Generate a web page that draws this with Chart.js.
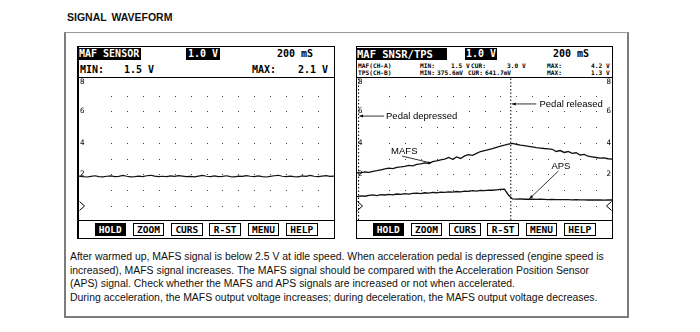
<!DOCTYPE html>
<html>
<head>
<meta charset="utf-8">
<script src="https://cdn.jsdelivr.net/npm/chart.js@4/dist/chart.umd.min.js"></script>
<style>
  html, body { margin: 0; padding: 0; background: #fff; }
  body { width: 700px; height: 332px; position: relative; overflow: hidden;
         font-family: "Liberation Sans", Arial, sans-serif; color: #111; }
  .abs { position: absolute; white-space: pre; }
  #title { left: 67px; top: 11px; font-weight: bold; font-size: 10.5px; word-spacing: 2px; }
  #frame { position: absolute; left: 64px; top: 32px; width: 565px; height: 286px; box-sizing: border-box;
           border: 2px solid #7c7c7c; border-top: 1px solid #9a9a9a; }
  .panel { position: absolute; top: 46px; height: 193px; box-sizing: border-box; border: 1px solid #000; background: #fff; }
  #left { left: 77px; width: 258px; border-left: 2px solid #000; }
  #right { left: 356px; width: 257px; }
  .mono { font-family: "DejaVu Sans Mono", monospace; font-weight: bold; color: #000; }
  .row1 { font-size: 10px; line-height: 12px; top: 1px; }
  .inv { background: #000; color: #fff; height: 12px; }
  .row2 { font-size: 10px; line-height: 12px; top: 17px; }
  .small { font-size: 6.2px; line-height: 7px; font-weight: bold; }
  .sep { position: absolute; left: 0; right: 0; top: 30px; height: 1px; background: #000; }
  canvas.scope { position: absolute; left: 0; top: 31px; }
  .btnrow { position: absolute; left: 0; right: 0; top: 173px; height: 18px; border-top: 1px solid #000; }
  .btn { position: absolute; top: 2px; height: 13px; box-sizing: border-box; border: 1px solid #000;
         font-family: "DejaVu Sans Mono", monospace; font-weight: bold; font-size: 9.5px; line-height: 11px;
         text-align: center; color: #000; background: #fff; }
  .btn.on { background: #000; color: #fff; }
  #notes { left: 70px; top: 250px; font-size: 10.45px; line-height: 13.7px; color: #111; }
</style>
</head>
<body>
<div id="title" class="abs">SIGNAL WAVEFORM</div>
<div id="frame"></div>

<div id="left" class="panel">
  <div class="abs mono row1 inv" style="left:0;width:62px;">MAF SENSOR</div>
  <div class="abs mono row1 inv" style="left:107px;width:34px;text-align:center;">1.0 V</div>
  <div class="abs mono row1" style="left:198px;">200 mS</div>
  <div class="abs mono row2" style="left:1px;">MIN:</div>
  <div class="abs mono row2" style="left:45px;">1.5 V</div>
  <div class="abs mono row2" style="left:173px;">MAX:</div>
  <div class="abs mono row2" style="left:219px;">2.1 V</div>
  <div class="sep"></div>
  <canvas id="mafChart" class="scope" width="255" height="142"></canvas>
  <div class="btnrow" id="leftButtons"></div>
</div>

<div id="right" class="panel">
  <div class="abs mono row1 inv" style="left:0;width:90px;font-size:10.5px;">MAF SNSR/TPS</div>
  <div class="abs mono row1 inv" style="left:108px;width:32px;text-align:center;">1.0 V</div>
  <div class="abs mono row1" style="left:196px;">200 mS</div>

  <div class="abs mono small" style="top:15px;left:1px;">MAF(CH-A)</div>
  <div class="abs mono small" style="top:15px;left:63px;">MIN:</div>
  <div class="abs mono small" style="top:15px;left:94px;">1.5 V</div>
  <div class="abs mono small" style="top:15px;left:114px;">CUR:</div>
  <div class="abs mono small" style="top:15px;left:150px;">3.0 V</div>
  <div class="abs mono small" style="top:15px;left:190px;">MAX:</div>
  <div class="abs mono small" style="top:15px;left:234px;">4.2 V</div>

  <div class="abs mono small" style="top:22px;left:1px;">TPS(CH-B)</div>
  <div class="abs mono small" style="top:22px;left:63px;">MIN:</div>
  <div class="abs mono small" style="top:22px;left:80px;">375.6mV</div>
  <div class="abs mono small" style="top:22px;left:111px;">CUR:</div>
  <div class="abs mono small" style="top:22px;left:128px;">641.7mV</div>
  <div class="abs mono small" style="top:22px;left:190px;">MAX:</div>
  <div class="abs mono small" style="top:22px;left:234px;">1.3 V</div>
  <div class="sep"></div>
  <canvas id="dualChart" class="scope" width="255" height="142"></canvas>
  <div class="btnrow" id="rightButtons"></div>
</div>

<div id="notes" class="abs">After warmed up, MAFS signal is below 2.5 V at idle speed. When acceleration pedal is depressed (engine speed is
increased), MAFS signal increases. The MAFS signal should be compared with the Acceleration Position Sensor
(APS) signal. Check whether the MAFS and APS signals are increased or not when accelerated.
During acceleration, the MAFS output voltage increases; during deceleration, the MAFS output voltage decreases.</div>

<script>
// ---- Scope settings ----
const msPerDiv = 200;          // time base
const divisions = 16;          // horizontal divisions on screen
const sampleMs = 50;           // capture interval
const yTickLabels = [8, 6, 4, 2];
const gridCols = [2, 3, 4, 5, 6, 7, 8, 9, 10, 11, 12, 13, 14, 15];
const gridRows = [0, 1, 2, 3, 4, 5, 6, 7];
const softKeys = ['HOLD', 'ZOOM', 'CURS', 'R-ST', 'MENU', 'HELP'];

// ---- Captured signals (volts) ----
// Idle: MAF sensor only
const mafIdle = [
  1.90, 1.86, 1.84, 1.88, 1.92, 1.87, 1.85, 1.89, 1.91, 1.86,
  1.88, 1.94, 1.89, 1.85, 1.87, 1.90, 1.86, 1.92, 1.95, 1.90,
  1.87, 1.89, 1.86, 1.91, 1.88, 1.93, 1.90, 1.86, 1.88, 1.85,
  1.90, 1.94, 1.89, 1.87, 1.91, 1.86, 1.88, 1.92, 1.87, 1.85,
  1.90, 1.88, 1.93, 1.89, 1.86, 1.91, 1.87, 1.84, 1.88, 1.92,
  1.95, 1.89, 1.86, 1.90, 1.87, 1.85, 1.91, 1.88, 1.94, 1.89,
  1.86, 1.90, 1.93, 1.88, 1.90
];
// Pedal depressed then released: MAFS (CH-A)
const mafsAccel = [
  2.12, 2.10, 2.16, 2.14, 2.20, 2.24, 2.30, 2.36, 2.40, 2.37,
  2.45, 2.48, 2.52, 2.58, 2.55, 2.64, 2.68, 2.74, 2.70, 2.82,
  2.86, 2.93, 2.98, 3.08, 2.96, 3.12, 3.02, 3.18, 3.26, 3.22,
  3.34, 3.46, 3.52, 3.58, 3.64, 3.72, 3.80, 3.86, 3.93, 3.98,
  3.92, 3.87, 3.83, 3.79, 3.75, 3.71, 3.68, 3.65, 3.63, 3.60,
  3.46, 3.52, 3.40, 3.46, 3.34, 3.38, 3.24, 3.28, 3.16, 3.12,
  3.08, 3.04, 3.06, 3.00, 2.98
];
// Same capture: APS / TPS (CH-B)
const apsAccel = [
  0.60, 0.64, 0.62, 0.68, 0.70, 0.66, 0.72, 0.70, 0.74, 0.71,
  0.76, 0.74, 0.78, 0.75, 0.80, 0.82, 0.79, 0.84, 0.82, 0.86,
  0.84, 0.88, 0.86, 0.90, 0.88, 0.92, 0.90, 0.94, 0.93, 0.97,
  0.95, 0.99, 0.98, 1.01, 1.00, 1.03, 1.05, 1.07, 0.70, 0.45,
  0.44, 0.45, 0.43, 0.44, 0.43, 0.42, 0.43, 0.42, 0.41, 0.42,
  0.41, 0.40, 0.41, 0.40, 0.39, 0.40, 0.39, 0.39, 0.38, 0.39,
  0.38, 0.38, 0.37, 0.38, 0.38
];
// Cursor marks (ms): pedal depressed, pedal released
const cursorMs = [20, 1930];

// ---- Helpers ----
const toPoints = arr => arr.map((v, i) => ({ x: i * sampleMs, y: v }));
const Y_MIN = -0.889, Y_MAX = 8.127;

function arrowHead(ctx, x1, y1, x2, y2, size) {
  const a = Math.atan2(y2 - y1, x2 - x1);
  ctx.beginPath();
  ctx.moveTo(x2, y2);
  ctx.lineTo(x2 - size * Math.cos(a - 0.4), y2 - size * Math.sin(a - 0.4));
  ctx.lineTo(x2 - size * Math.cos(a + 0.4), y2 - size * Math.sin(a + 0.4));
  ctx.closePath();
  ctx.fill();
}

// Scope screen: dot graticule, volt labels, channel ground markers, callouts
const scopeScreen = {
  id: 'scopeScreen',
  beforeDatasetsDraw(chart, args, opts) {
    const { ctx, chartArea: ca } = chart;
    const xs = chart.scales.x, ys = chart.scales.y;
    ctx.save();
    ctx.fillStyle = '#444';
    for (const c of gridCols) {
      for (const r of gridRows) {
        const px = Math.round(xs.getPixelForValue(c * msPerDiv));
        const py = Math.round(ys.getPixelForValue(r));
        ctx.fillRect(px, py, 1, 1);
      }
    }
    ctx.fillStyle = '#000';
    ctx.font = '7.5px "DejaVu Sans Mono", monospace';
    ctx.textBaseline = 'middle';
    for (const t of yTickLabels) {
      const py = Math.max(ca.top + 4, ys.getPixelForValue(t));
      ctx.textAlign = 'left';
      ctx.fillText(String(t), ca.left + 1, py);
      if (opts.rightLabels) {
        ctx.textAlign = 'right';
        ctx.fillText(String(t), ca.right - 1, py);
      }
    }
    // ground reference markers at 0 V
    ctx.strokeStyle = '#000';
    ctx.lineWidth = 1;
    const gy = ys.getPixelForValue(0);
    ctx.beginPath();
    ctx.moveTo(ca.left + 0.5, gy - 4.5); ctx.lineTo(ca.left + 5.5, gy); ctx.lineTo(ca.left + 0.5, gy + 4.5);
    ctx.stroke();
    if (opts.rightLabels) {
      ctx.beginPath();
      ctx.moveTo(ca.right - 0.5, gy - 4.5); ctx.lineTo(ca.right - 5.5, gy); ctx.lineTo(ca.right - 0.5, gy + 4.5);
      ctx.stroke();
    }
    ctx.restore();
  },
  afterDatasetsDraw(chart, args, opts) {
    if (!opts.callouts) return;
    const { ctx } = chart;
    const xs = chart.scales.x, ys = chart.scales.y;
    const P = (x, y) => [xs.getPixelForValue(x), ys.getPixelForValue(y)];
    ctx.save();
    ctx.font = '9.5px "Liberation Sans", Arial, sans-serif';
    ctx.fillStyle = '#000';
    ctx.strokeStyle = '#000';
    ctx.lineWidth = 0.8;
    ctx.textBaseline = 'middle';
    ctx.textAlign = 'left';
    for (const c of opts.callouts) {
      const [tx, ty] = P(c.text[0], c.text[1]);
      ctx.fillStyle = '#fff';
      const w = ctx.measureText(c.label).width;
      ctx.fillRect(tx - 1, ty - 5, w + 2, 10);
      ctx.fillStyle = '#000';
      ctx.fillText(c.label, tx, ty);
      const [x1, y1] = P(c.from[0], c.from[1]);
      const [x2, y2] = P(c.to[0], c.to[1]);
      ctx.beginPath();
      ctx.moveTo(x1, y1); ctx.lineTo(x2, y2);
      ctx.stroke();
      arrowHead(ctx, x1, y1, x2, y2, c.head);
    }
    ctx.restore();
  }
};

function scopeOptions(extra) {
  return {
    responsive: false,
    animation: false,
    events: [],
    layout: { padding: 0 },
    elements: { point: { radius: 0 }, line: { tension: 0 } },
    plugins: { legend: { display: false }, tooltip: { enabled: false }, scopeScreen: extra },
    scales: {
      x: { type: 'linear', min: 0, max: divisions * msPerDiv, display: false },
      y: { type: 'linear', min: Y_MIN, max: Y_MAX, display: false }
    }
  };
}

function cursorLine(ms) {
  return {
    data: [{ x: ms, y: Y_MIN }, { x: ms, y: Y_MAX }],
    borderColor: '#000', borderWidth: 1, borderDash: [1.5, 2], pointRadius: 0
  };
}

new Chart(document.getElementById('mafChart'), {
  type: 'line',
  data: {
    datasets: [{ label: 'MAF SENSOR', data: toPoints(mafIdle), borderColor: '#111', borderWidth: 1.2, pointRadius: 0 }]
  },
  options: scopeOptions({ rightLabels: false }),
  plugins: [scopeScreen]
});

new Chart(document.getElementById('dualChart'), {
  type: 'line',
  data: {
    datasets: [
      cursorLine(cursorMs[0]),
      cursorLine(cursorMs[1]),
      { label: 'MAFS', data: toPoints(mafsAccel), borderColor: '#111', borderWidth: 1.3, pointRadius: 0 },
      { label: 'APS', data: toPoints(apsAccel), borderColor: '#111', borderWidth: 1.3, pointRadius: 0 }
    ]
  },
  options: scopeOptions({
    rightLabels: true,
    callouts: [
      { label: 'Pedal released', text: [2290, 6.48], from: [2250, 6.48], to: [1945, 6.48], head: 4 },
      { label: 'Pedal depressed', text: [364, 5.71], from: [340, 5.71], to: [30, 5.71], head: 4 },
      { label: 'MAFS', text: [428, 3.49], from: [566, 3.17], to: [930, 2.73], head: 3 },
      { label: 'APS', text: [2440, 2.54], from: [2528, 2.22], to: [2164, 0.46], head: 4 }
    ]
  }),
  plugins: [scopeScreen]
});

// Soft-key row under each screen
function buildKeys(id) {
  const row = document.getElementById(id);
  softKeys.forEach((k, j) => {
    const b = document.createElement('div');
    b.className = 'btn' + (j === 0 ? ' on' : '');
    b.style.left = (15.5 + 38.3 * j) + 'px';
    b.style.width = '31.5px';
    b.textContent = k;
    row.appendChild(b);
  });
}
buildKeys('leftButtons');
buildKeys('rightButtons');
</script>
</body>
</html>
